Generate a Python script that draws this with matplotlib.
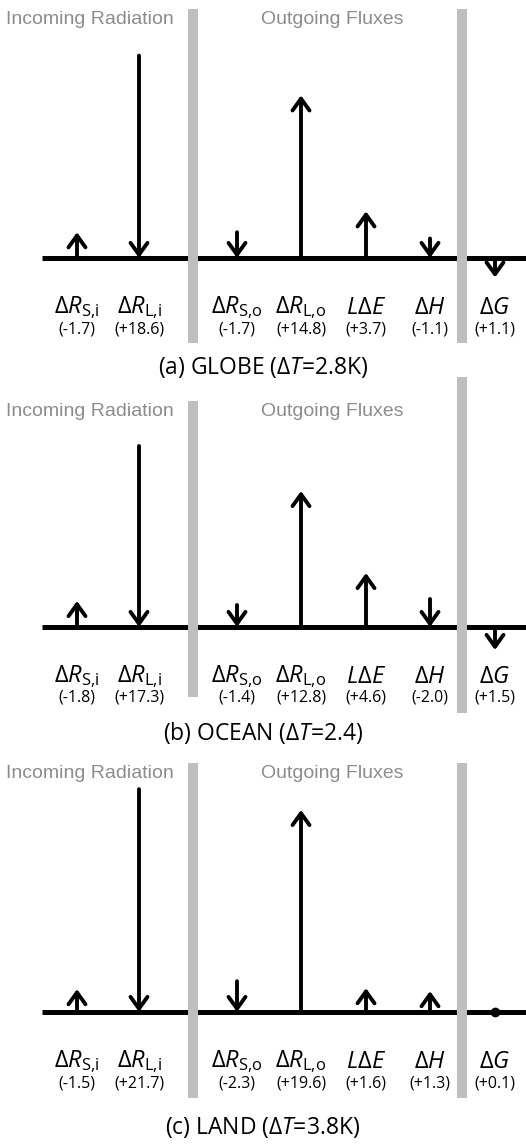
import matplotlib
matplotlib.use('Agg')
import matplotlib.pyplot as plt
from matplotlib.patches import FancyArrowPatch, Rectangle

# surface energy budget terms, W/m2 change per panel
terms = [r'$\Delta R_{\mathrm{S{,}i}}$', r'$\Delta R_{\mathrm{L{,}i}}$',
         r'$\Delta R_{\mathrm{S{,}o}}$', r'$\Delta R_{\mathrm{L{,}o}}$',
         r'$L\Delta E$', r'$\Delta H$', r'$\Delta G$']
# in: positive points down onto the surface, out: positive points up,
# gnd: positive points down into the ground (drawn under the line)
kinds = ['in', 'in', 'out', 'out', 'out', 'out', 'gnd']

globe = [-1.7, 18.6, -1.7, 14.8, 3.7, -1.1, 1.1]
ocean = [-1.8, 17.3, -1.4, 12.8, 4.6, -2.0, 1.5]
land = [-1.5, 21.7, -2.3, 19.6, 1.6, 1.3, 0.1]

captions = [r'(a) GLOBE ($\Delta T$=2.8K)',
            r'(b) OCEAN ($\Delta T$=2.4)',
            r'(c) LAND ($\Delta T$=3.8K)']
section_titles = ['Incoming Radiation', 'Outgoing Fluxes']

plt.rcParams['font.family'] = ['Open Sans', 'DejaVu Sans']
plt.rcParams['mathtext.fontset'] = 'custom'
plt.rcParams['mathtext.rm'] = 'Open Sans'
plt.rcParams['mathtext.it'] = 'Open Sans:italic'
plt.rcParams['mathtext.bf'] = 'Open Sans:bold'

W, H = 526, 1147
fig = plt.figure(figsize=(W / 100, H / 100), dpi=100)

# layout in pixels
col_x = [77, 139, 237, 301, 366, 430, 495]
bar_x = [188, 457]
bar_w = 10
title_x = [90, 332]
line_x0 = 42
panels = [
    dict(vals=globe, base=258, scale=10.45, bars=[(9, 343), (9, 343)], title_y=20, cap_y=368),
    dict(vals=ocean, base=627, scale=10.0, bars=[(401, 697), (377, 713)], title_y=412, cap_y=733),
    dict(vals=land, base=1012, scale=9.9, bars=[(763, 1098), (763, 1098)], title_y=773, cap_y=1128),
]

grey = '#bfbfbf'
arrow_style = '->,head_length=0.5,head_width=0.36'
head_px = 8   # head sits on top of the shaft, so the shaft alone is the flux

for p, cap in zip(panels, captions):
    top, bot = p['base'] - 250, p['base'] + 45
    ax = fig.add_axes([0, 1 - bot / H, 1, (bot - top) / H])
    ax.set_xlim(0, W)
    ax.set_ylim(-(bot - p['base']) / p['scale'], (p['base'] - top) / p['scale'])
    ax.axis('off')
    ax.plot([line_x0, W], [0, 0], color='black', lw=3.6, solid_capstyle='butt', zorder=1)

    ext = head_px / p['scale']
    for x, v, k in zip(col_x, p['vals'], kinds):
        up = (v < 0) if k in ('in', 'gnd') else (v > 0)
        a = abs(v)
        if a < 0.5:
            # too small for an arrow: just a dot on the line
            ax.plot(x, 0, 'o', color='black', ms=6, zorder=3)
            continue
        a = a + ext
        if k == 'gnd':
            tail, tip = (-a, 0) if up else (0, -a)
        else:
            tail, tip = (0, a) if up else (a, 0)
        ax.add_patch(FancyArrowPatch((x, tail), (x, tip), arrowstyle=arrow_style,
                                     mutation_scale=17, lw=2.8, color='black',
                                     shrinkA=0, shrinkB=0, zorder=3))

# overlay for separators and text
cv = fig.add_axes([0, 0, 1, 1], zorder=5)
cv.set_xlim(0, W)
cv.set_ylim(H, 0)
cv.axis('off')
cv.patch.set_alpha(0)

for p, cap in zip(panels, captions):
    b = p['base']
    for bx, (y0, y1) in zip(bar_x, p['bars']):
        cv.add_patch(Rectangle((bx, y0), bar_w, y1 - y0, color=grey, lw=0))
    for tx, t in zip(title_x, section_titles):
        cv.text(tx, p['title_y'], t, ha='center', va='center', color='#8c8c8c',
                fontsize=14, family=['Liberation Sans Narrow', 'Liberation Sans'])
    for x, name, v in zip(col_x, terms, p['vals']):
        cv.text(x, b + 50, name, ha='center', va='center', fontsize=17)
        cv.text(x, b + 71, '(%+.1f)' % v, ha='center', va='center', fontsize=11.5)
    cv.text(W / 2, p['cap_y'], cap, ha='center', va='center', fontsize=16.5)

fig.savefig('out.png', dpi=100)
